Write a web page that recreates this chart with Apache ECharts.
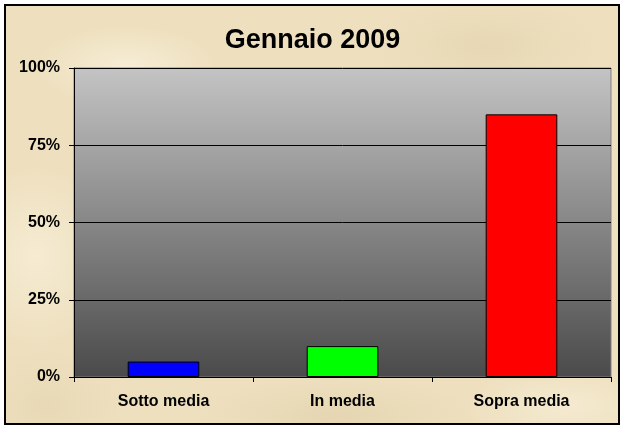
<!DOCTYPE html>
<html>
<head>
<meta charset="utf-8">
<script src="https://cdn.jsdelivr.net/npm/echarts@6/dist/echarts.min.js"></script>
<style>
  body { margin: 0; background: #fff; }
  #wrap { position: relative; width: 625px; height: 431px; background: #fff; }
  #frame {
    position: absolute; left: 4px; top: 4px; width: 612px; height: 417px;
    border: 2px solid #000;
    background:
      radial-gradient(ellipse 90px 40px at 120px 60px, rgba(255,250,235,0.5), rgba(255,250,235,0)),
      radial-gradient(ellipse 120px 50px at 480px 40px, rgba(215,195,155,0.3), rgba(215,195,155,0)),
      radial-gradient(ellipse 70px 90px at 30px 250px, rgba(255,250,235,0.45), rgba(255,250,235,0)),
      radial-gradient(ellipse 140px 40px at 330px 410px, rgba(210,190,150,0.3), rgba(210,190,150,0)),
      radial-gradient(ellipse 100px 40px at 560px 400px, rgba(255,250,235,0.4), rgba(255,250,235,0)),
      radial-gradient(ellipse 80px 60px at 40px 400px, rgba(215,195,155,0.25), rgba(215,195,155,0)),
      #eee0bf;
  }
  #chart { position: absolute; left: 0; top: 0; width: 625px; height: 431px; }
</style>
</head>
<body>
<div id="wrap">
  <div id="frame"></div>
  <div id="chart"></div>
</div>
<script>
// dati del grafico
var categorie = ['Sotto media', 'In media', 'Sopra media'];
var valori = [0.05, 0.10, 0.85];
var colori = ['#0000ff', '#00ff00', '#ff0000'];

var font = 'Arial, "Liberation Sans", sans-serif';

var myChart = echarts.init(document.getElementById('chart'), null, {renderer: 'canvas'});

var barData = [];
for (var i = 0; i < valori.length; i++) {
    barData.push({
        value: valori[i],
        itemStyle: { color: colori[i] }
    });
}

var option = {
    backgroundColor: 'transparent',
    animation: false,
    title: {
        text: 'Gennaio 2009',
        left: 'center',
        top: 22,
        textStyle: { fontFamily: font, fontSize: 27, fontWeight: 'bold', color: '#000' }
    },
    grid: {
        left: 74, top: 68, right: 14, bottom: 54,
        show: true,
        borderColor: '#808080',
        borderWidth: 1,
        backgroundColor: new echarts.graphic.LinearGradient(0, 0, 0, 1, [
            {offset: 0, color: '#c4c4c4'},
            {offset: 1, color: '#4a4a4a'}
        ])
    },
    xAxis: {
        type: 'category',
        data: categorie,
        axisLine: { show: true, lineStyle: { color: '#000', width: 1 } },
        axisTick: { show: true, alignWithLabel: false, length: 5, lineStyle: { color: '#000' } },
        axisLabel: { margin: 17, fontFamily: font, fontSize: 16, fontWeight: 'bold', color: '#000' }
    },
    yAxis: {
        type: 'value',
        min: 0,
        max: 1,
        interval: 0.25,
        axisLine: { show: true, lineStyle: { color: '#000', width: 1 } },
        axisTick: { show: true, length: 5, lineStyle: { color: '#000' } },
        splitLine: { show: true, lineStyle: { color: '#000', width: 1 } },
        axisLabel: {
            margin: 14, fontFamily: font, fontSize: 16, fontWeight: 'bold', color: '#000',
            formatter: function (v) { return Math.round(v * 100) + '%'; }
        }
    },
    series: [{
        type: 'bar',
        data: barData,
        barWidth: '40%',
        itemStyle: { borderColor: '#000', borderWidth: 1 }
    }]
};
myChart.setOption(option);
</script>
</body>
</html>
